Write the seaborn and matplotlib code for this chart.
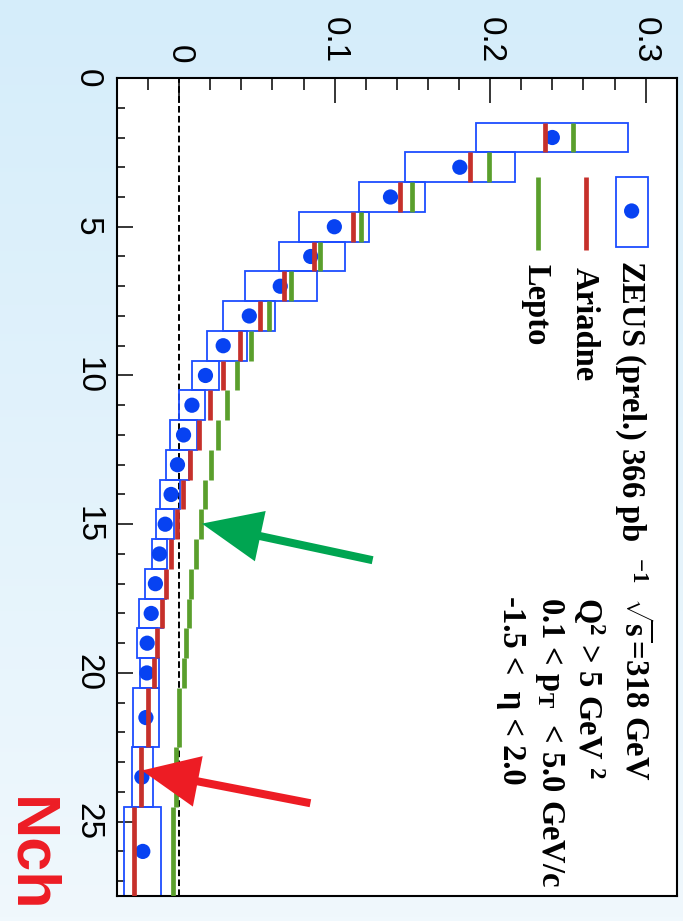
import numpy as np
import pandas as pd
import matplotlib
matplotlib.use("Agg")
import matplotlib.pyplot as plt
from matplotlib.patches import Rectangle
from matplotlib.ticker import MultipleLocator, FixedLocator, FuncFormatter
import seaborn as sns

# Charged multiplicity bins (bin centre, lower edge, upper edge)
nch = [2, 3, 4, 5, 6, 7, 8, 9, 10, 11, 12, 13, 14, 15, 16, 17, 18, 19, 20,
       21.5, 23.5, 26]
bin_lo = [1.5, 2.5, 3.5, 4.5, 5.5, 6.5, 7.5, 8.5, 9.5, 10.5, 11.5, 12.5,
          13.5, 14.5, 15.5, 16.5, 17.5, 18.5, 19.5, 20.5, 22.5, 24.5]
bin_hi = [2.5, 3.5, 4.5, 5.5, 6.5, 7.5, 8.5, 9.5, 10.5, 11.5, 12.5, 13.5,
          14.5, 15.5, 16.5, 17.5, 18.5, 19.5, 20.5, 22.5, 24.5, 27.5]

# ZEUS preliminary measurement and its systematic band
zeus = [0.240, 0.1805, 0.1359, 0.0998, 0.0846, 0.0650, 0.0451, 0.0283,
        0.0169, 0.0082, 0.0028, -0.0011, -0.0052, -0.0090, -0.0127,
        -0.0153, -0.0180, -0.0206, -0.0208, -0.0214, -0.0240, -0.0234]
zeus_sys_lo = [0.1910, 0.1453, 0.1155, 0.0771, 0.0642, 0.0421, 0.0285,
               0.0180, 0.0082, -0.0004, -0.0058, -0.0086, -0.0122, -0.0150,
               -0.0176, -0.0217, -0.0256, -0.0272, -0.0251, -0.0298,
               -0.0305, -0.0356]
zeus_sys_hi = [0.2887, 0.2159, 0.1582, 0.1221, 0.1064, 0.0887, 0.0618,
               0.0438, 0.0256, 0.0167, 0.0116, 0.0060, 0.0006, -0.0032,
               -0.0079, -0.0088, -0.0101, -0.0140, -0.0127, -0.0133,
               -0.0169, -0.0118]

# Monte Carlo predictions
ariadne = [0.2352, 0.1872, 0.1417, 0.1118, 0.0865, 0.0676, 0.0517, 0.0391,
           0.0283, 0.0200, 0.0129, 0.0071, 0.0024, -0.0015, -0.0052,
           -0.0084, -0.0111, -0.0140, -0.0161, -0.0198, -0.0245, -0.0288]
lepto = [0.2535, 0.1992, 0.1496, 0.1172, 0.0908, 0.0721, 0.0575, 0.0462,
         0.0371, 0.0309, 0.0249, 0.0204, 0.0169, 0.0140, 0.0109, 0.0077,
         0.0066, 0.0041, 0.0028, -0.0004, -0.0021, -0.0043]

value_ticks = [0, 0.1, 0.2, 0.3]
value_tick_labels = ["0", "0.1", "0.2", "0.3"]
nch_ticks = [0, 5, 10, 15, 20, 25]

BLUE_BOX = "#1d4dff"
BLUE_PT = "#0742f2"
RED = "#c6302b"
GREEN = "#5a9f2c"
ARROW_GREEN = "#00a551"
ARROW_RED = "#ed1c24"

df = pd.DataFrame({
    "nch": nch, "lo": bin_lo, "hi": bin_hi, "zeus": zeus,
    "sys_lo": zeus_sys_lo, "sys_hi": zeus_sys_hi,
    "ariadne": ariadne, "lepto": lepto,
})

sns.set_theme(style="ticks")
plt.rcParams["font.family"] = ["Liberation Sans", "DejaVu Sans"]
plt.rcParams["mathtext.fontset"] = "custom"
plt.rcParams["mathtext.rm"] = "Liberation Serif:bold"
plt.rcParams["mathtext.bf"] = "Liberation Serif:bold"
plt.rcParams["mathtext.it"] = "Liberation Serif:bold:italic"

fig = plt.figure(figsize=(6.83, 9.21), dpi=100)

# slide background: soft vertical blue gradient
bg = fig.add_axes([0, 0, 1, 1], zorder=-10)
top = np.array([213, 237, 250]) / 255.0
bot = np.array([240, 248, 253]) / 255.0
t = np.linspace(0, 1, 256)[:, None, None]
grad = top[None, None, :] * (1 - t) + bot[None, None, :] * t
grad = np.repeat(grad, 4, axis=1)
bg.imshow(grad, aspect="auto", extent=[0, 1, 0, 1])
bg.set_axis_off()

ax = fig.add_axes([0.1713, 0.0271, 0.8195, 0.8882])
ax.set_facecolor("white")

# zero reference
ax.axvline(0, color="black", lw=1.4, ls=(0, (3.4, 1.7)), zorder=1)

# systematic boxes
ax.barh(y=df["nch"], width=df["sys_hi"] - df["sys_lo"], left=df["sys_lo"],
        height=df["hi"] - df["lo"], fill=False, edgecolor=BLUE_BOX,
        linewidth=1.3, zorder=2)

# data points
sns.scatterplot(data=df, x="zeus", y="nch", ax=ax, color=BLUE_PT, s=120,
                edgecolor="none", linewidth=0, zorder=3, legend=False)

# model predictions as bin-wide segments
ax.vlines(df["ariadne"], df["lo"], df["hi"], color=RED, lw=3.4, zorder=4)
ax.vlines(df["lepto"], df["lo"], df["hi"], color=GREEN, lw=3.4, zorder=4)

ax.set_xlim(-0.04, 0.32)
ax.set_ylim(27.5, 0)
ax.set_xlabel("")
ax.set_ylabel("")

# axes and ticks
for side in ["top", "bottom", "left", "right"]:
    ax.spines[side].set_visible(True)
    ax.spines[side].set_linewidth(1.5)
    ax.spines[side].set_color("black")

ax.xaxis.set_major_locator(FixedLocator(value_ticks))
ax.xaxis.set_major_formatter(FuncFormatter(
    lambda v, p: dict(zip(value_ticks, value_tick_labels)).get(round(v, 3), "")))
ax.xaxis.set_minor_locator(MultipleLocator(0.02))
ax.yaxis.set_major_locator(FixedLocator(nch_ticks))
ax.yaxis.set_minor_locator(MultipleLocator(1))

ax.tick_params(axis="x", which="both", direction="in", top=True, bottom=False,
               labeltop=True, labelbottom=False, colors="black", width=1.1)
ax.tick_params(axis="x", which="major", length=18, labelsize=24, pad=10.5,
               labelrotation=-90)
ax.tick_params(axis="x", which="minor", length=8.6)
ax.tick_params(axis="y", which="both", direction="in", left=True, right=False,
               colors="black", width=1.1)
ax.tick_params(axis="y", which="major", length=11.5, labelsize=24, pad=10,
               labelrotation=-90)
ax.tick_params(axis="y", which="minor", length=5.8)
for lab in ax.get_yticklabels():
    lab.set_va("center")

# legend drawn in the rotated frame
serif = dict(family=["Liberation Serif", "DejaVu Serif"], weight="bold",
             fontsize=23.5, color="black", rotation=-90,
             rotation_mode="anchor", ha="left", va="baseline", zorder=6)
ax.add_patch(Rectangle((0.2807, 3.33), 0.0207, 2.35, fill=False,
                       edgecolor=BLUE_BOX, lw=1.3, zorder=5))
ax.scatter([0.291], [4.47], s=120, color=BLUE_PT, edgecolor="none", zorder=5)
ax.vlines([0.2614], 3.33, 5.78, color=RED, lw=3.4, zorder=5)
ax.vlines([0.2305], 3.33, 5.78, color=GREEN, lw=3.4, zorder=5)
ax.text(0.2846, 6.12, r"ZEUS (prel.) 366 pb  $^{-1}$", **serif)
ax.text(0.2550, 6.36, "Ariadne", **serif)
ax.text(0.2241, 6.26, "Lepto", **serif)

# kinematic selection
ax.text(0.2872, 17.46, r"$\sqrt{\mathrm{s}}$=318 GeV", **serif)
ax.text(0.2563, 17.46, r"Q$^{2}$ > 5 GeV $^{2}$", **serif)
ax.text(0.2331, 17.46, r"0.1 < p$_{\mathrm{T}}$  < 5.0 GeV/c", **serif)
ax.text(0.2080, 17.40, "-1.5 <  η < 2.0", **serif)

# highlight arrows
arrow_kw = dict(mutation_scale=1, shrinkA=0, shrinkB=0, lw=0)
ax.annotate("", xy=(0.0146, 14.98), xytext=(0.1244, 16.21),
            arrowprops=dict(arrowstyle="simple,head_length=43,head_width=37,tail_width=5.8",
                            color=ARROW_GREEN, **arrow_kw), zorder=7)
ax.annotate("", xy=(-0.0240, 23.28), xytext=(0.0844, 24.38),
            arrowprops=dict(arrowstyle="simple,head_length=41,head_width=37,tail_width=5.8",
                            color=ARROW_RED, **arrow_kw), zorder=7)

# axis title
fig.text(13 / 683, 1 - 797 / 921, "Nch", rotation=-90, rotation_mode="anchor",
         ha="left", va="baseline", fontsize=44, weight="bold",
         color=ARROW_RED, family=["Liberation Sans", "DejaVu Sans"])

fig.savefig("out.png", dpi=100)
